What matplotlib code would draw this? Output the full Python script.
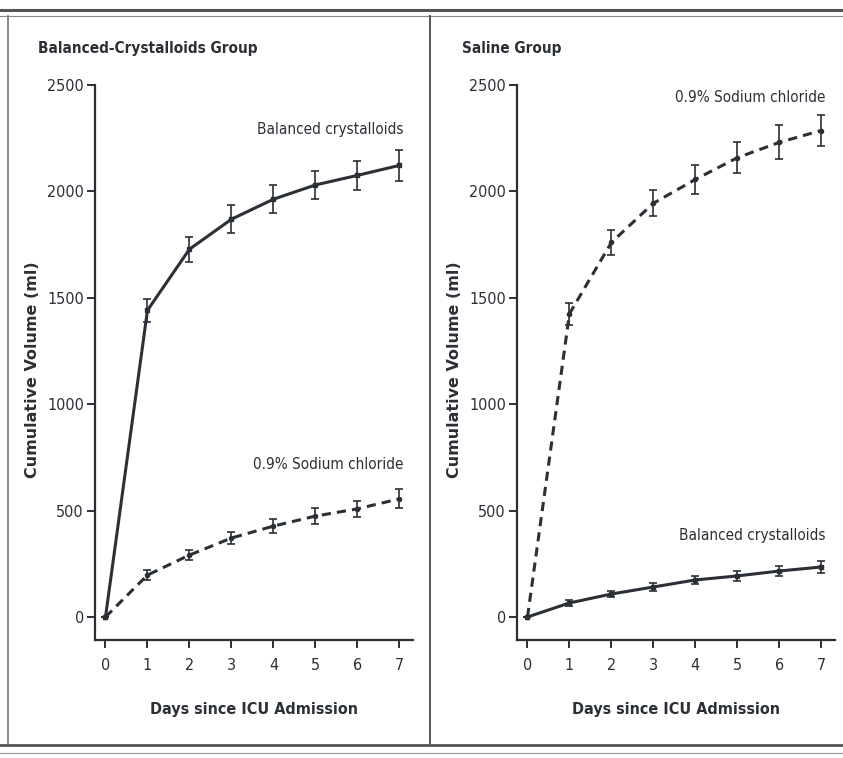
import matplotlib
matplotlib.use("Agg")
import matplotlib.pyplot as plt
from matplotlib.lines import Line2D

days = [0, 1, 2, 3, 4, 5, 6, 7]

# balanced-crystalloids group
bc_balanced = [0, 1441, 1728, 1869, 1963, 2030, 2075, 2122]
bc_balanced_err = [0, 54, 59, 65, 66, 66, 68, 72]
bc_saline = [0, 197, 291, 371, 427, 474, 508, 555]
bc_saline_err = [0, 22, 24, 28, 32, 36, 38, 45]

# saline group
sg_saline = [0, 1425, 1760, 1944, 2056, 2158, 2230, 2286]
sg_saline_err = [0, 52, 60, 61, 68, 73, 80, 75]
sg_balanced = [0, 66, 108, 141, 174, 193, 216, 235]
sg_balanced_err = [0, 14, 16, 18, 20, 22, 24, 26]

yticks = [0, 500, 1000, 1500, 2000, 2500]

narrow = ["DejaVu Sans"]
ink = "#2b2f36"

fig = plt.figure(figsize=(8.43, 7.58), dpi=100)


def panel(rect, title, solid, solid_err, dashed, dashed_err,
          solid_lbl, solid_xy, dashed_lbl, dashed_xy, title_x, ylab_x):
    ax = fig.add_axes(rect)
    ax.errorbar(days, solid, yerr=solid_err, color=ink, lw=2.2, ls="-",
                marker="s", ms=3, capsize=3, elinewidth=1.2, capthick=1.2)
    ax.errorbar(days, dashed, yerr=dashed_err, color=ink, lw=2.2, ls=(0, (3, 2)),
                marker="o", ms=3, capsize=3, elinewidth=1.2, capthick=1.2)
    ax.set_xlim(-0.25, 7.33)
    ax.set_ylim(-108, 2500)
    ax.set_xticks(days)
    ax.set_yticks(yticks)
    for s in ["top", "right"]:
        ax.spines[s].set_visible(False)
    for s in ["left", "bottom"]:
        ax.spines[s].set_linewidth(1.6)
        ax.spines[s].set_color(ink)
    ax.tick_params(axis="both", direction="out", width=1.4, length=6, color=ink)
    ax.tick_params(axis="x", pad=7)
    ax.tick_params(axis="y", pad=2)
    for t in ax.get_xticklabels() + ax.get_yticklabels():
        t.set_family(narrow)
        t.set_stretch("condensed")
        t.set_fontsize(11.5)
        t.set_color(ink)
    ax.text(*solid_xy, solid_lbl, family=narrow, stretch="condensed", fontsize=11,
            color=ink, ha="right", va="center")
    ax.text(*dashed_xy, dashed_lbl, family=narrow, stretch="condensed", fontsize=11,
            color=ink, ha="right", va="center")
    ax.set_xlabel("Days since ICU Admission", family=narrow, stretch="condensed",
                  fontsize=11.5, fontweight="bold", color=ink, labelpad=21)
    fig.text(ylab_x, 0.512, "Cumulative Volume (ml)", rotation=90, fontsize=11.5,
             fontweight="bold", color=ink, ha="center", va="center")
    fig.text(title_x, 0.936, title, family=narrow, stretch="condensed", fontsize=11,
             fontweight="bold", color=ink, ha="left", va="center")
    return ax


panel([0.1127, 0.1557, 0.3773, 0.7322], "Balanced-Crystalloids Group",
      bc_balanced, bc_balanced_err, bc_saline, bc_saline_err,
      "Balanced crystalloids", (7.1, 2290), "0.9% Sodium chloride", (7.1, 715),
      0.045, 0.038)
panel([0.6133, 0.1557, 0.3772, 0.7322], "Saline Group",
      sg_balanced, sg_balanced_err, sg_saline, sg_saline_err,
      "Balanced crystalloids", (7.1, 385), "0.9% Sodium chloride", (7.1, 2440),
      0.548, 0.539)

# page frame lines
grey = "#555555"
fig.add_artist(Line2D([0, 1], [0.9868, 0.9868], color=grey, lw=2.2))
fig.add_artist(Line2D([0, 1], [0.979, 0.979], color="#888888", lw=0.8))
fig.add_artist(Line2D([0.0095, 0.0095], [0.018, 0.979], color="#777777", lw=1.2))
fig.add_artist(Line2D([0.510, 0.510], [0.018, 0.979], color="#555555", lw=1.4))
fig.add_artist(Line2D([0, 1], [0.0172, 0.0172], color=grey, lw=2.0))
fig.add_artist(Line2D([0, 1], [0.007, 0.007], color="#999999", lw=0.8))

fig.savefig("out.png", dpi=100)
